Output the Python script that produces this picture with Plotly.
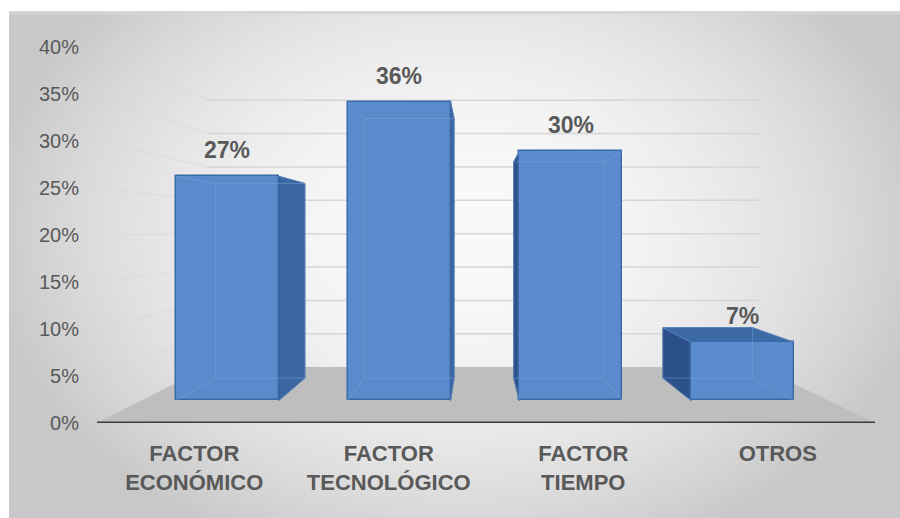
import base64
import struct
import zlib

import numpy as np
import plotly.graph_objects as go

# ---- data ----
categories = ["FACTOR<br>ECONÓMICO", "FACTOR<br>TECNOLÓGICO", "FACTOR<br>TIEMPO", "OTROS"]
values = [0.27, 0.36, 0.30, 0.07]
y_tick_values = [0.00, 0.05, 0.10, 0.15, 0.20, 0.25, 0.30, 0.35, 0.40]
y_tick_labels = ["0%", "5%", "10%", "15%", "20%", "25%", "30%", "35%", "40%"]

# ---- page geometry ----
W, H = 900, 518
X_DOMAIN = [97 / W, 875 / W]
Y_DOMAIN = [(H - 423) / H, (H - 47) / H]
X_RANGE = [-0.5, len(categories) - 0.5]
Y_RANGE = [0.0, 0.40]

# perspective: vanishing point (in front-plane data units) and depth scales
VP_X, VP_Y = 1.454, 0.205
S_FRONT, S_BACK, S_WALL = 0.883, 0.767, 0.71
BAR_HALF = 0.30

TEXT = "#595959"
FONT = "Liberation Sans, Arial, sans-serif"


def proj(x, y, s):
    """Project a point at depth scale s onto the front plane."""
    return VP_X + s * (x - VP_X), VP_Y + s * (y - VP_Y)


def bar_plane(x, y):
    """Front-plane coordinates -> bar-plane axis coordinates."""
    return VP_X + (x - VP_X) / S_FRONT, VP_Y + (y - VP_Y) / S_FRONT


def poly(points, fill, line=None, width=0, xaxis="x", yaxis="y"):
    xs = [p[0] for p in points] + [points[0][0]]
    ys = [p[1] for p in points] + [points[0][1]]
    return go.Scatter(
        x=xs, y=ys, mode="lines", fill="toself", fillcolor=fill,
        line=dict(color=line or fill, width=width),
        hoverinfo="skip", showlegend=False, xaxis=xaxis, yaxis=yaxis,
    )


def segment(p, q, color, width, xaxis="x", yaxis="y"):
    return go.Scatter(
        x=[p[0], q[0]], y=[p[1], q[1]], mode="lines",
        line=dict(color=color, width=width),
        hoverinfo="skip", showlegend=False, xaxis=xaxis, yaxis=yaxis,
    )


# ---- soft gray radial background as an inline PNG ----
def gradient_png(w, h):
    yy, xx = np.mgrid[0:h, 0:w].astype(float)
    px = xx / (w - 1) * 891 + 9
    py = yy / (h - 1) * 507 + 11
    r2 = ((px - 460) / 450) ** 2 + ((py - 230) / 330) ** 2
    c = np.clip(250 - 44 * r2, 200, 250)
    c[0, :] = 214
    img = np.repeat(c[:, :, None], 3, axis=2).astype(np.uint8)
    raw = b"".join(b"\x00" + row.tobytes() for row in img)

    def chunk(tag, data):
        out = struct.pack(">I", len(data)) + tag + data
        return out + struct.pack(">I", zlib.crc32(tag + data) & 0xFFFFFFFF)

    png = (b"\x89PNG\r\n\x1a\n"
           + chunk(b"IHDR", struct.pack(">IIBBBBB", w, h, 8, 2, 0, 0, 0))
           + chunk(b"IDAT", zlib.compress(raw, 9))
           + chunk(b"IEND", b""))
    return "data:image/png;base64," + base64.b64encode(png).decode()


fig = go.Figure()

x_lo, x_hi = X_RANGE
# floor
fig.add_trace(poly([proj(x_lo, 0, 1), proj(x_hi, 0, 1), proj(x_hi, 0, S_WALL), proj(x_lo, 0, S_WALL)],
                   "#bebebe"))

# back-wall and side-wall gridlines
for g in y_tick_values[1:]:
    fig.add_trace(segment(proj(x_lo, g, S_WALL), proj(x_hi, g, S_WALL), "#d6d6d6", 1.5))
    fig.add_trace(segment(proj(x_lo, g, 1), proj(x_lo, g, S_WALL), "rgba(210,210,210,0.4)", 1.2))

# front edge of the floor
fig.add_trace(segment((x_lo, 0), (x_hi, 0), "#3c3c3c", 3))

# side and top faces of the columns
for i, v in enumerate(values):
    left, right = i - BAR_HALF, i + BAR_HALF
    if right < VP_X:
        fig.add_trace(poly([proj(right, 0, S_FRONT), proj(right, v, S_FRONT),
                            proj(right, v, S_BACK), proj(right, 0, S_BACK)],
                           "#3b66a2", "#2f5a96", 1))
    if left > VP_X:
        fig.add_trace(poly([proj(left, 0, S_FRONT), proj(left, v, S_FRONT),
                            proj(left, v, S_BACK), proj(left, 0, S_BACK)],
                           "#2c5089", "#284a80", 1))
    if v < VP_Y:
        fig.add_trace(poly([proj(left, v, S_FRONT), proj(right, v, S_FRONT),
                            proj(right, v, S_BACK), proj(left, v, S_BACK)],
                           "#3d69a5", "#30609c", 1))

# front faces of the columns on the bar-plane axes
fig.add_trace(go.Bar(
    x=list(range(len(values))), y=values, width=2 * BAR_HALF,
    marker=dict(color="#5a8bcd", line=dict(color="#3a6aa8", width=1.5)),
    hoverinfo="skip", showlegend=False, xaxis="x2", yaxis="y2",
))

# hidden back edges seen through the translucent columns
for i, v in enumerate(values):
    left, right = i - BAR_HALF, i + BAR_HALF
    back = [bar_plane(*proj(left, 0, S_BACK)), bar_plane(*proj(right, 0, S_BACK)),
            bar_plane(*proj(right, v, S_BACK)), bar_plane(*proj(left, v, S_BACK))]
    front = [(left, 0), (right, 0), (right, v), (left, v)]
    for k in range(4):
        fig.add_trace(segment(back[k], back[(k + 1) % 4], "rgba(120,165,220,0.5)", 1,
                              "x2", "y2"))
        fig.add_trace(segment(front[k], back[k], "rgba(120,165,220,0.5)", 1, "x2", "y2"))

# value labels above the columns
annotations = [
    dict(x=i, y=v, xref="x2", yref="y2", text=f"{round(v * 100)}%",
         showarrow=False, yanchor="bottom", yshift=11,
         font=dict(family=FONT, size=23, color=TEXT, weight="bold"))
    for i, v in enumerate(values)
]

bx = [VP_X + (a - VP_X) / S_FRONT for a in X_RANGE]
by = [VP_Y + (a - VP_Y) / S_FRONT for a in Y_RANGE]

fig.update_layout(
    width=W, height=H,
    margin=dict(l=0, r=0, t=0, b=0),
    paper_bgcolor="white", plot_bgcolor="rgba(0,0,0,0)",
    showlegend=False, bargap=0,
    images=[dict(source=gradient_png(297, 169), xref="paper", yref="paper",
                 x=9 / W, y=1 - 11 / H, sizex=891 / W, sizey=507 / H,
                 xanchor="left", yanchor="top", sizing="stretch", layer="below")],
    xaxis=dict(domain=X_DOMAIN, range=X_RANGE, showgrid=False, zeroline=False,
               showline=False, tickvals=list(range(len(categories))), ticktext=categories,
               ticks="", ticklabelstandoff=15, automargin=False,
               tickfont=dict(family=FONT, size=22, color=TEXT, weight="bold")),
    yaxis=dict(domain=Y_DOMAIN, range=Y_RANGE, showgrid=False, zeroline=False,
               showline=False, tickvals=y_tick_values, ticktext=y_tick_labels,
               ticks="", ticklabelstandoff=17, automargin=False,
               tickfont=dict(family=FONT, size=20, color=TEXT)),
    xaxis2=dict(overlaying="x", range=bx, visible=False),
    yaxis2=dict(overlaying="y", range=by, visible=False),
    annotations=annotations,
)

fig.write_html("out.html")
